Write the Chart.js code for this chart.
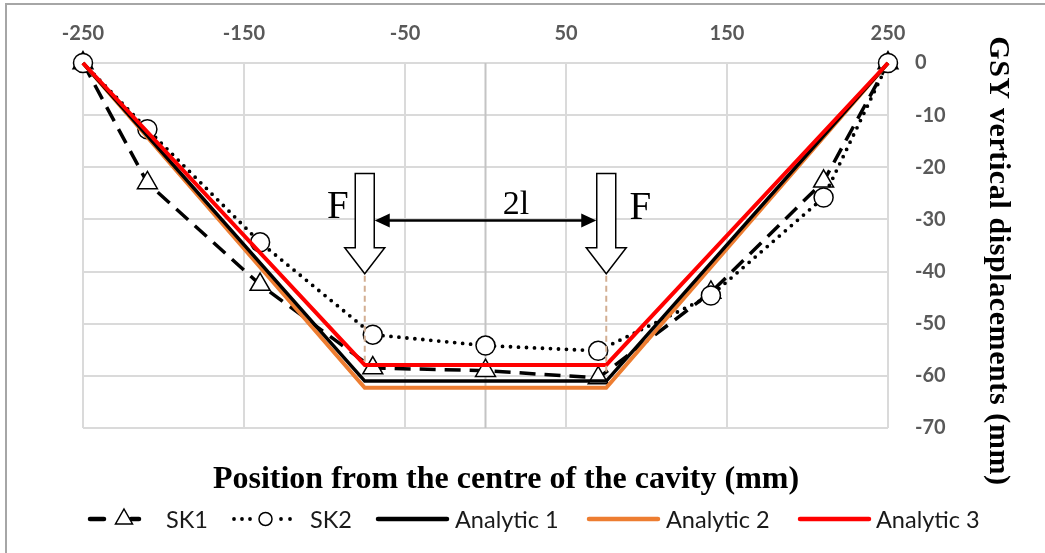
<!DOCTYPE html>
<html>
<head>
<meta charset="utf-8">
<script src="https://cdn.jsdelivr.net/npm/chart.js@4.4.1/dist/chart.umd.min.js"></script>
<style>
  body { margin: 0; background: #fff; }
  #wrap { width: 1045px; height: 553px; }
</style>
</head>
<body>
<div id="wrap"><canvas id="chart"></canvas></div>
<script>
// measured GSY vertical displacements (mm) vs position (mm)
const skPositions = [-250, -210, -140, -70, 0, 70, 140, 210, 250];
const sk1 = [0, -23, -42.5, -58.5, -59, -60.4, -44, -22.7, 0];
const sk2 = [0, -12.7, -34.4, -52.1, -54.2, -55.2, -44.6, -25.8, 0];

// analytic solutions
const analyticPositions = [-250, -75, 75, 250];
const analytic1 = [0, -61, -61, 0];
const analytic2 = [0, -62.3, -62.3, 0];
const analytic3 = [0, -57.9, -57.9, 0];

const xTicks = [-250, -150, -50, 50, 150, 250];
const yTicks = [0, -10, -20, -30, -40, -50, -60, -70];

const seriesNames = ["SK1", "SK2", "Analytic 1", "Analytic 2", "Analytic 3"];

// load sketch: F at +/- l
const loadX = [-75, 75];
const loadTop = -21.2;
const loadTip = -40.4;
const loadGuideEnd = [-57.5, -59.5];
const spanY = -30.2;

const xTitle = "Position from the centre of the cavity (mm)";
const yTitle = "GSY vertical displacements (mm)";

const pts = (xs, ys) => xs.map((x, i) => ({ x, y: ys[i] }));

function downArrow(ctx, cx, top, tip) {
  const sw = 9.5, hw = 20, hl = 26;
  ctx.beginPath();
  ctx.moveTo(cx - sw, top);
  ctx.lineTo(cx + sw, top);
  ctx.lineTo(cx + sw, tip - hl);
  ctx.lineTo(cx + hw, tip - hl);
  ctx.lineTo(cx, tip);
  ctx.lineTo(cx - hw, tip - hl);
  ctx.lineTo(cx - sw, tip - hl);
  ctx.closePath();
  ctx.fillStyle = "#fff";
  ctx.fill();
  ctx.strokeStyle = "#000";
  ctx.lineWidth = 1.5;
  ctx.stroke();
}

function head(ctx, x, y, dir) {
  ctx.beginPath();
  ctx.moveTo(x, y);
  ctx.lineTo(x - dir * 15, y - 7);
  ctx.lineTo(x - dir * 15, y + 7);
  ctx.closePath();
  ctx.fill();
}

function seg(ctx, a, b, y) {
  ctx.beginPath(); ctx.moveTo(a, y); ctx.lineTo(b, y); ctx.stroke();
}

const overlay = {
  id: "overlay",
  beforeDraw(c) {
    const ctx = c.ctx;
    ctx.save();
    ctx.strokeStyle = "#a6a6a6";
    ctx.lineWidth = 2;
    ctx.beginPath();
    ctx.moveTo(6, 553);
    ctx.lineTo(6, 4);
    ctx.lineTo(1045, 4);
    ctx.stroke();
    ctx.restore();
  },
  beforeDatasetsDraw(c) {
    const { ctx, chartArea, scales } = c;
    const x0 = scales.x.getPixelForValue(0);
    ctx.save();
    ctx.strokeStyle = "#c4c4c4";
    ctx.lineWidth = 2;
    ctx.beginPath();
    ctx.moveTo(x0, chartArea.top);
    ctx.lineTo(x0, chartArea.bottom);
    ctx.stroke();
    ctx.restore();
  },
  afterDatasetsDraw(c) {
    const { ctx, scales } = c;
    const xs = scales.x, ys = scales.y;
    ctx.save();
    // guide lines under the loads
    ctx.strokeStyle = "#d2ae92";
    ctx.lineWidth = 2;
    ctx.setLineDash([6, 4]);
    loadX.forEach((v, i) => {
      const px = xs.getPixelForValue(v);
      ctx.beginPath();
      ctx.moveTo(px, ys.getPixelForValue(loadTip) + 2);
      ctx.lineTo(px, ys.getPixelForValue(loadGuideEnd[i]));
      ctx.stroke();
    });
    ctx.setLineDash([]);
    loadX.forEach(v => downArrow(ctx, xs.getPixelForValue(v), ys.getPixelForValue(loadTop), ys.getPixelForValue(loadTip)));

    // span 2l
    const yl = ys.getPixelForValue(spanY);
    const xl = xs.getPixelForValue(loadX[0]) + 10;
    const xr = xs.getPixelForValue(loadX[1]) - 10;
    ctx.strokeStyle = "#000";
    ctx.fillStyle = "#000";
    ctx.lineWidth = 2.5;
    seg(ctx, xl + 10, xr - 10, yl);
    head(ctx, xl, yl, -1);
    head(ctx, xr, yl, 1);

    ctx.font = "34px 'Liberation Serif'";
    ctx.textAlign = "center";
    ctx.textBaseline = "alphabetic";
    ctx.fillText("2l", xs.getPixelForValue(19), yl - 6);
    ctx.font = "39px 'Liberation Serif'";
    ctx.fillText("F", xs.getPixelForValue(loadX[0]) - 27, yl - 2);
    ctx.fillText("F", xs.getPixelForValue(loadX[1]) + 34, yl - 1);
    ctx.restore();
  },
  afterDraw(c) {
    const ctx = c.ctx;
    ctx.save();
    ctx.fillStyle = "#000";
    ctx.font = "bold 32px 'Liberation Serif'";
    ctx.textAlign = "center";
    ctx.textBaseline = "alphabetic";
    ctx.fillText(xTitle, 506, 488);

    ctx.save();
    ctx.translate(990, 261);
    ctx.rotate(Math.PI / 2);
    ctx.font = "bold 30px 'Liberation Serif'";
    ctx.letterSpacing = "0.6px";
    ctx.fillText(yTitle, 0, 0);
    ctx.restore();

    // legend
    const ly = 519;
    ctx.lineCap = "round";
    ctx.strokeStyle = "#000";
    ctx.fillStyle = "#fff";
    // SK1
    ctx.lineWidth = 4.5;
    seg(ctx, 90, 104, ly);
    seg(ctx, 131, 139, ly);
    ctx.lineWidth = 1.5;
    ctx.beginPath();
    ctx.moveTo(124, ly - 10); ctx.lineTo(132.5, ly + 5); ctx.lineTo(115.5, ly + 5); ctx.closePath();
    ctx.fill(); ctx.stroke();
    // SK2
    ctx.fillStyle = "#000";
    [234, 242, 250, 281, 290].forEach(x => { ctx.beginPath(); ctx.arc(x, ly, 1.9, 0, Math.PI * 2); ctx.fill(); });
    ctx.fillStyle = "#fff";
    ctx.beginPath(); ctx.arc(265.5, ly, 6.5, 0, Math.PI * 2); ctx.fill(); ctx.stroke();
    // analytic lines
    [["#000", 378, 447], ["#ED7D31", 589, 658], ["#FF0000", 800, 869]].forEach(([col, a, b]) => {
      ctx.strokeStyle = col;
      ctx.lineWidth = 4.5;
      seg(ctx, a, b, ly);
    });
    ctx.fillStyle = "#1a1a1a";
    ctx.font = "23.5px Lato";
    ctx.textAlign = "left";
    ctx.textBaseline = "middle";
    [166, 310, 455, 666, 876].forEach((x, i) => ctx.fillText(seriesNames[i], x, ly + 1));
    ctx.restore();
  }
};

const tickFont = { family: "Lato", size: 20, weight: "bold" };
const gridStyle = { color: "#dadada", lineWidth: 2, drawTicks: false };

new Chart(document.getElementById("chart"), {
  type: "scatter",
  data: {
    datasets: [
      {
        label: seriesNames[0], data: pts(skPositions, sk1), showLine: true,
        borderColor: "#000", borderWidth: 3.5, borderDash: [16, 9],
        pointStyle: "triangle", pointRadius: 11.5, pointBackgroundColor: "#fff",
        pointBorderColor: "#000", pointBorderWidth: 1.5, order: 5, clip: false
      },
      {
        label: seriesNames[1], data: pts(skPositions, sk2), showLine: true,
        borderColor: "#000", borderWidth: 3.8, borderDash: [0, 8], borderCapStyle: "round",
        pointStyle: "circle", pointRadius: 9.5, pointBackgroundColor: "#fff",
        pointBorderColor: "#000", pointBorderWidth: 1.5, order: 4, clip: false
      },
      {
        label: seriesNames[2], data: pts(analyticPositions, analytic1), showLine: true,
        borderColor: "#000", borderWidth: 3.5, pointRadius: 0, order: 2, clip: false
      },
      {
        label: seriesNames[3], data: pts(analyticPositions, analytic2), showLine: true,
        borderColor: "#ED7D31", borderWidth: 4, pointRadius: 0, order: 3, clip: false
      },
      {
        label: seriesNames[4], data: pts(analyticPositions, analytic3), showLine: true,
        borderColor: "#FF0000", borderWidth: 4, pointRadius: 0, order: 1, clip: false
      }
    ]
  },
  options: {
    responsive: true,
    maintainAspectRatio: false,
    animation: false,
    devicePixelRatio: 1,
    layout: { padding: { left: 83, right: 0, top: 0, bottom: 125 } },
    plugins: { legend: { display: false }, tooltip: { enabled: false } },
    scales: {
      x: {
        type: "linear", position: "top", min: -250, max: 250,
        afterBuildTicks: s => { s.ticks = xTicks.map(v => ({ value: v })); },
        afterFit: s => { s.height = 63; },
        grid: gridStyle,
        border: { display: false },
        ticks: { color: "#595959", font: tickFont, padding: 17, maxRotation: 0, autoSkip: false }
      },
      y: {
        type: "linear", position: "right", min: -70, max: 0,
        afterBuildTicks: s => { s.ticks = yTicks.map(v => ({ value: v })); },
        afterFit: s => { s.width = 157; },
        grid: gridStyle,
        border: { display: false },
        ticks: { color: "#595959", font: tickFont, padding: 27, autoSkip: false }
      }
    }
  },
  plugins: [overlay]
});
</script>
</body>
</html>
